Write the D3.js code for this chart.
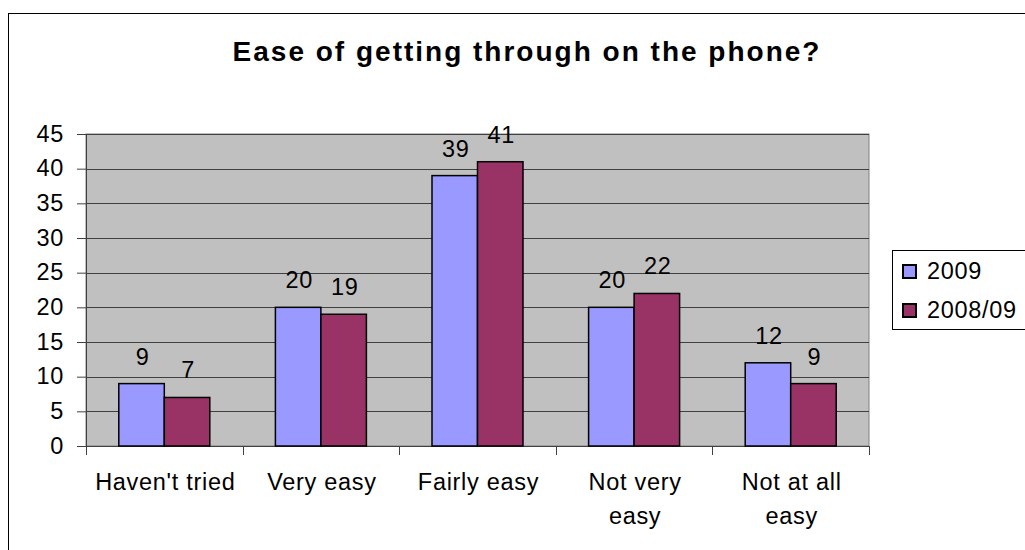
<!DOCTYPE html>
<html><head><meta charset="utf-8">
<script src="https://cdn.jsdelivr.net/npm/d3@7/dist/d3.min.js"></script>
<style>body{margin:0;background:#fff}svg{display:block}text{font-family:"Liberation Sans",Arial,sans-serif}</style>
</head><body><svg id="c" width="1025" height="550"></svg>
<script>
const categories = [["Haven't tried"], ["Very easy"], ["Fairly easy"], ["Not very", "easy"], ["Not at all", "easy"]];
const seriesNames = ["2009", "2008/09"];
const values2009 = [9, 20, 39, 20, 12];
const values200809 = [7, 19, 41, 22, 9];
const yTicks = [0, 5, 10, 15, 20, 25, 30, 35, 40, 45];
const colors = ["#9999FF", "#993366"];

const FS = 23.5, LS = 0.7;
const svg = d3.select("#c");
const L = 86, R = 869, T = 134, B = 446;
svg.append("rect").attr("x", 8.5).attr("y", 13.5).attr("width", 1040).attr("height", 560)
  .attr("fill", "#fff").attr("stroke", "#000").attr("stroke-width", 1);

svg.append("text").attr("x", 527).attr("y", 61).attr("text-anchor", "middle")
  .attr("font-size", 28).attr("font-weight", "bold").attr("letter-spacing", 2)
  .text("Ease of getting through on the phone?");

const x = d3.scaleBand().domain(d3.range(categories.length)).range([L, R]).paddingInner(0).paddingOuter(0);
const y = d3.scaleLinear().domain([0, 45]).range([B, T]);

svg.append("rect").attr("x", L).attr("y", T).attr("width", R - L).attr("height", B - T)
  .attr("fill", "#C0C0C0").attr("stroke", "#808080").attr("stroke-width", 1);

svg.append("g").selectAll("line").data(yTicks.filter(d => d > 0)).join("line")
  .attr("x1", L).attr("x2", R).attr("y1", d => Math.round(y(d)) + 0.5).attr("y2", d => Math.round(y(d)) + 0.5)
  .attr("stroke", "#404040").attr("stroke-width", 1);

// y axis
const ya = svg.append("g").attr("transform", `translate(${L},0)`)
  .call(d3.axisLeft(y).tickValues(yTicks).tickSize(9).tickPadding(13));
ya.select(".domain").attr("stroke", "#404040");
ya.selectAll(".tick line").attr("stroke", "#404040");
ya.selectAll(".tick text").attr("font-size", FS).attr("letter-spacing", LS).attr("fill", "#000")
  .attr("font-family", "Liberation Sans, Arial, sans-serif").attr("dy", "0.3em");

// x axis
const xa = svg.append("g").attr("transform", `translate(0,${B})`);
xa.append("line").attr("x1", L).attr("x2", R).attr("y1", 0.5).attr("y2", 0.5).attr("stroke", "#404040");
xa.selectAll("line.tk").data(d3.range(categories.length + 1)).join("line").attr("class", "tk")
  .attr("x1", i => Math.round(L + i * x.step()) + 0.5).attr("x2", i => Math.round(L + i * x.step()) + 0.5)
  .attr("y1", 0).attr("y2", 9).attr("stroke", "#404040");
const lab = xa.selectAll("text").data(categories).join("text")
  .attr("text-anchor", "middle").attr("font-size", FS).attr("letter-spacing", LS)
  .attr("transform", (d, i) => `translate(${x(i) + x.bandwidth() / 2 + 1},0)`);
lab.selectAll("tspan").data(d => d).join("tspan").attr("x", 0).attr("y", (d, j) => 44 + j * 34).text(d => d);

const data = [values2009, values200809];
const bw = 45.5;
data.forEach((vals, s) => {
  const g = svg.append("g");
  g.selectAll("rect").data(vals).join("rect")
    .attr("x", (d, i) => x(i) + x.bandwidth() / 2 - bw + s * bw)
    .attr("y", d => y(d)).attr("width", bw).attr("height", d => B - y(d))
    .attr("fill", colors[s]).attr("stroke", "#000").attr("stroke-width", 1.5);
  g.selectAll("text").data(vals).join("text")
    .attr("x", (d, i) => x(i) + x.bandwidth() / 2 - bw / 2 + s * bw + 1)
    .attr("y", d => y(d) - 19).attr("text-anchor", "middle").attr("font-size", FS)
    .attr("letter-spacing", LS).text(d => d);
});

// legend
const lg = svg.append("g");
lg.append("rect").attr("x", 892.5).attr("y", 250.5).attr("width", 140).attr("height", 79)
  .attr("fill", "#fff").attr("stroke", "#000").attr("stroke-width", 1);
seriesNames.forEach((n, i) => {
  lg.append("rect").attr("x", 903).attr("y", 265 + i * 39).attr("width", 13).attr("height", 13)
    .attr("fill", colors[i]).attr("stroke", "#000").attr("stroke-width", 2);
  lg.append("text").attr("x", 927).attr("y", 279 + i * 39).attr("font-size", FS).attr("letter-spacing", LS).text(n);
});
</script></body></html>
